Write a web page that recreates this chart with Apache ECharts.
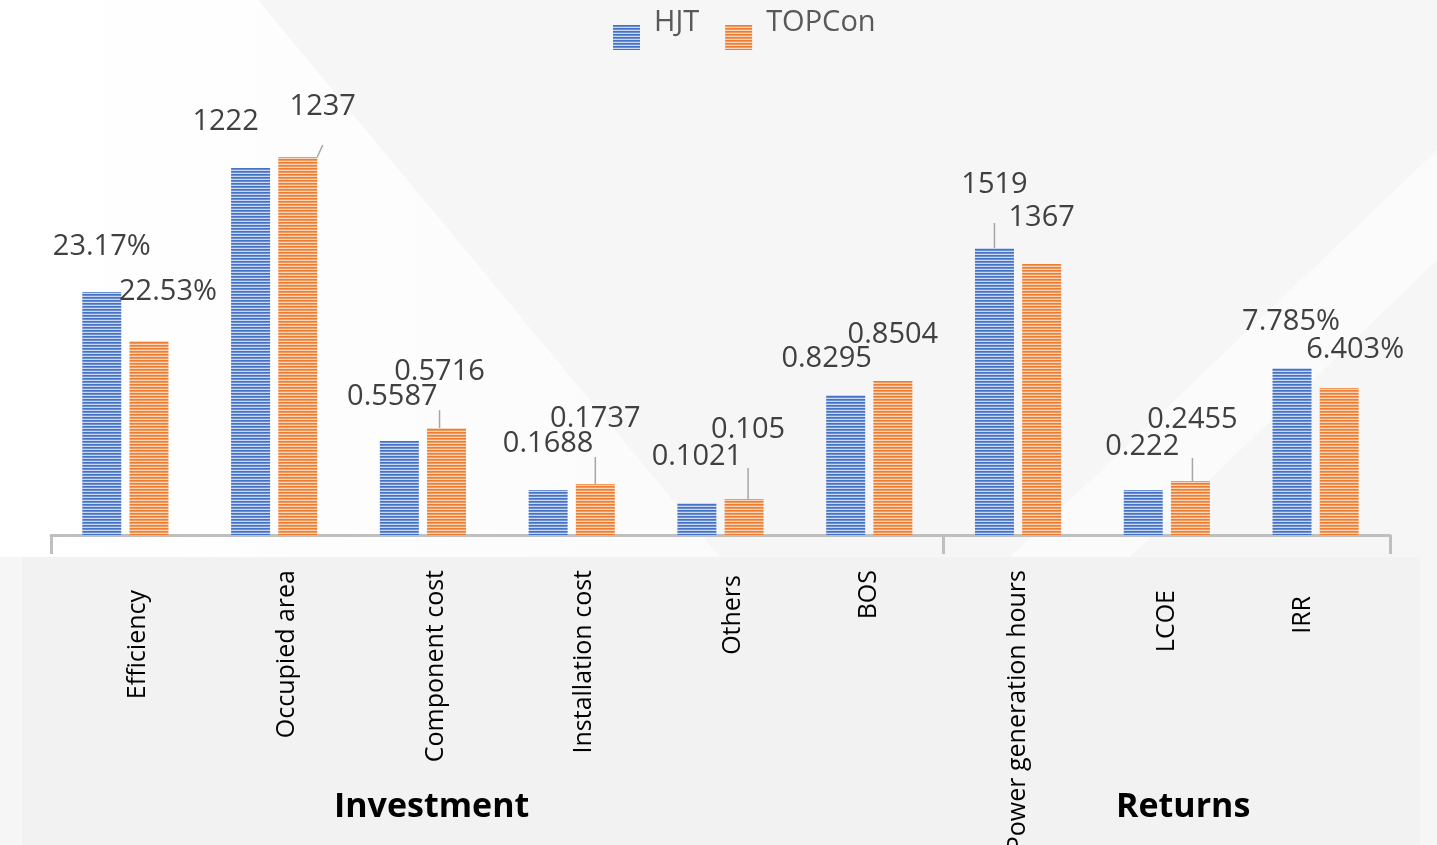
<!DOCTYPE html>
<html>
<head>
<meta charset="utf-8">
<script src="https://cdn.jsdelivr.net/npm/echarts@6/dist/echarts.min.js"></script>
<style>
html,body{margin:0;padding:0;background:#f7f7f7;}
#chart{width:1437px;height:845px;}
</style>
</head>
<body>
<div id="chart"></div>
<script>
// ---- data ----
const categories = ['Efficiency','Occupied area','Component cost','Installation cost','Others','BOS','Power generation hours','LCOE','IRR'];
const groups = ['Investment','Returns'];
const seriesNames = ['HJT','TOPCon'];
// relative bar heights as drawn in the picture (arbitrary units)
const hjtHeight = [243, 367, 94, 45, 32, 140, 287, 45, 167];
const topconHeight = [194, 378, 107, 51, 36, 154, 271, 54, 147];
// value labels shown on the bars
const hjtLabels = ['23.17%','1222','0.5587','0.1688','0.1021','0.8295','1519','0.222','7.785%'];
const topconLabels = ['22.53%','1237','0.5716','0.1737','0.105','0.8504','1367','0.2455','6.403%'];

// ---- layout tweaks (label placement) ----
const labelShift = [
  [[0,-26],[-25,-27],[-7,-25],[0,-27],[0,-27],[-19,-17],[0,-44],[-1,-24],[-1,-27]],
  [[19,-30],[25,-31],[-7,-37],[0,-46],[4,-50],[0,-27],[0,-27],[2,-42],[16,-19]]
];
const leader = [[6],[1,2,3,4,7]];
const leaderPad = 24;
const catDown = [20,0,-3,0,5,0,-4,20,26];
const catAlign = ['top','top','top','top','top','middle','middle','middle','bottom'];

function stripe(dark, mid, light){
  const c = document.createElement('canvas');
  c.width = 4; c.height = 3;
  const g = c.getContext('2d');
  g.fillStyle = dark; g.fillRect(0,0,4,1);
  g.fillStyle = mid; g.fillRect(0,1,4,1);
  g.fillStyle = light; g.fillRect(0,2,4,1);
  return c;
}
const fills = [
  {image: stripe('#4472c4','#6c8fd2','#c9d7f1'), repeat:'repeat'},
  {image: stripe('#ed7d31','#f09a5e','#fad4b9'), repeat:'repeat'}
];

const chart = echarts.init(document.getElementById('chart'), null, {renderer:'canvas'});

function isLeader(si, i){ return leader[si].indexOf(i) >= 0; }

function makeSeries(si, heights, labels){
  return {
    name: seriesNames[si],
    type: 'bar',
    barWidth: 39,
    barGap: '21%',
    itemStyle: {color: fills[si]},
    data: heights.map((v,i) => isLeader(si,i)
      ? {value:v, labelLine:{show:true}, label:{padding:[0,0,leaderPad,0], backgroundColor:'rgba(255,255,255,0)'}}
      : {value:v}),
    label: {
      show: true,
      position: 'top',
      distance: 5,
      fontFamily: 'Open Sans',
      fontSize: 29,
      color: '#404040',
      formatter: p => labels[p.dataIndex]
    },
    labelLine: {show:false, lineStyle:{color:'#a6a6a6', width:1.5}},
    labelLayout: p => ({
      dx: labelShift[si][p.dataIndex][0],
      dy: labelShift[si][p.dataIndex][1] + (isLeader(si, p.dataIndex) ? leaderPad : 0)
    }),
    emphasis: {disabled:true},
    z: 3
  };
}

const option = {
  backgroundColor: '#f6f6f6',
  animation: false,
  graphic: [
    {type:'polygon', z:-10, silent:true, shape:{points:[[0,0],[258,0],[720,557],[0,557]]},
     style:{fill:{type:'linear',x:0,y:0,x2:1,y2:0,colorStops:[{offset:0,color:'#ffffff'},{offset:1,color:'#fbfbfb'}]}}},
    {type:'polygon', z:-10, silent:true, shape:{points:[[1437,150],[1437,260],[1130,557],[1010,557]]},
     style:{fill:'#fbfbfb'}},
    {type:'rect', z:-5, silent:true, shape:{x:22,y:557,width:1398,height:288}, style:{fill:'#f2f2f2'}},
    {type:'text', z:10, left: 334, top: 790, style:{text: groups[0], font:'bold 34px "Open Sans"', fill:'#000'}},
    {type:'text', z:10, left: 1116, top: 790, style:{text: groups[1], font:'bold 34px "Open Sans"', fill:'#000'}}
  ],
  legend: {
    data: seriesNames,
    icon: 'rect',
    left: 613,
    top: 8,
    padding: 0,
    itemWidth: 27,
    itemHeight: 25,
    itemGap: 26,
    formatter: '{t|{name}}',
    textStyle: {
      fontFamily:'Open Sans', fontSize:29, color:'#595959',
      rich: {t: {fontFamily:'Open Sans', fontSize:29, color:'#595959', padding:[0,0,30,9]}}
    }
  },
  grid: {left:51, right:47, top:135, bottom:310, containLabel:false, outerBoundsMode:'none'},
  xAxis: {
    type: 'category',
    data: categories.map((c,i) => ({value:c, textStyle:{verticalAlign: catAlign[i], padding:[0, Math.max(catDown[i],0), 0, 0]}})),
    axisLine: {show:true, lineStyle:{color:'#bfbfbf', width:3}},
    axisTick: {show:true, length:19, interval: (idx) => idx === 0 || idx === 6, lineStyle:{color:'#bfbfbf', width:3}},
    axisLabel: {interval:0, rotate:90, margin:35, fontFamily:'Open Sans', fontSize:25, color:'#000', hideOverlap:false},
    splitLine: {show:false}
  },
  yAxis: {type:'value', min:0, max:400, show:false, splitLine:{show:false}},
  series: [makeSeries(0, hjtHeight, hjtLabels), makeSeries(1, topconHeight, topconLabels)]
};
chart.setOption(option);
</script>
</body>
</html>
